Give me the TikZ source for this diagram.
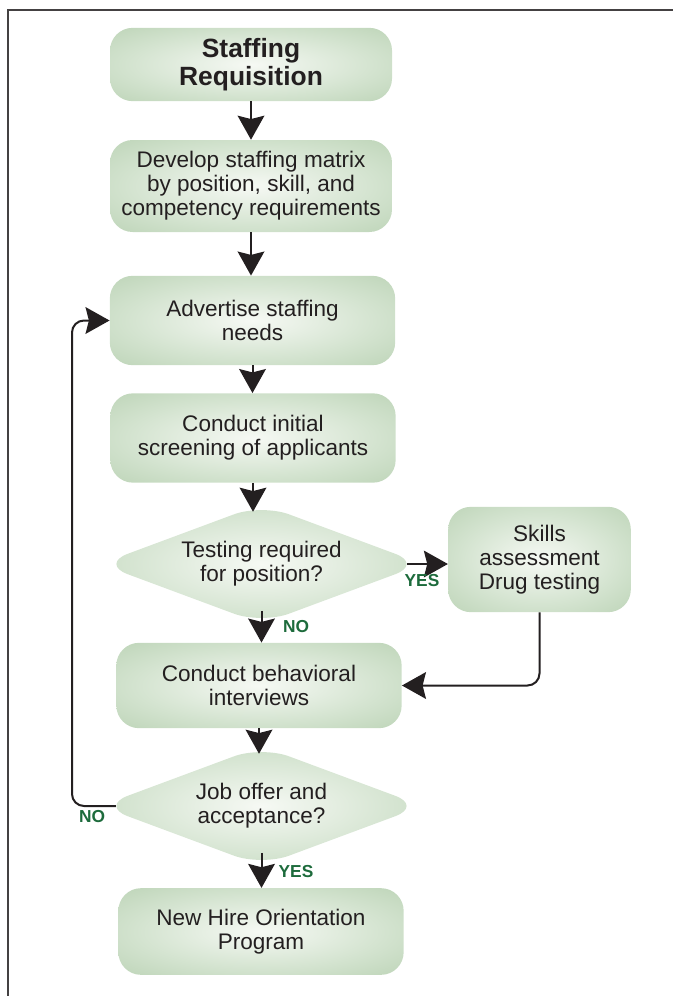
\documentclass[tikz,border=0pt]{standalone}
\usepackage{fontspec}
\setmainfont{Liberation Sans}
\usepackage{xcolor}
\usepackage{tikz}
\usetikzlibrary{arrows.meta,shapes.geometric}

\definecolor{glowin}{HTML}{F6F9F4}
\definecolor{glowmid}{HTML}{D3E3CF}
\definecolor{glowout}{HTML}{A8C6A1}
\definecolor{tagcol}{HTML}{1D6B3C}
\definecolor{inkcol}{HTML}{231F20}
\pgfdeclareradialshading{glow}{\pgfpointorigin}{color(0bp)=(glowin); color(22bp)=(glowmid); color(50bp)=(glowout); color(75bp)=(glowout)}

\tikzset{
  box/.style={rectangle, rounded corners=17pt, shade, shading=glow, minimum width=214pt,
    minimum height=67pt, inner sep=2pt, align=center, text=inkcol,
    font=\fontsize{16.9}{18}\selectfont},
  ask/.style={diamond, rounded corners=22pt, shade, shading=glow, minimum width=242pt,
    minimum height=90pt, aspect=2.7, inner sep=0pt, align=center, text=inkcol,
    font=\fontsize{16.9}{18}\selectfont},
  arr/.style={-{Stealth[length=18pt,width=20pt,inset=2.5pt]}, line width=1.5pt, draw=inkcol},
  tag/.style={font=\bfseries\fontsize{13}{13}\selectfont, text=tagcol}
}

\begin{document}
\begin{tikzpicture}[x=0.75pt,y=-0.75pt]
      \useasboundingbox (0,0) rectangle (673,996);
      \draw[line width=1.1pt, inkcol!85] (673,10) -- (8,10) -- (8,996);
      \node[box, minimum width=211.5pt, minimum height=55pt,
        font=\bfseries\fontsize{19.8}{21}\selectfont] (A) at (251,64.5) {Staffing\\Requisition};
      \node[box, minimum width=211.5pt, minimum height=69pt] (B) at (251,186) {Develop staffing matrix\\by position, skill, and\\competency requirements};
      \node[box] (C) at (252.5,320.5) {Advertise staffing\\needs};
      \node[box] (D) at (253,438) {Conduct initial\\screening of applicants};
      \node[ask] (E) at (261.5,564) {Testing required\\for position?};
      \node[box, minimum width=137pt, minimum height=79pt] (F) at (539.5,559.5) {Skills\\assessment\\Drug testing};
      \node[box, minimum height=64pt] (G) at (259,685.5) {Conduct behavioral\\interviews};
      \node[ask] (H) at (261.5,806) {Job offer and\\acceptance?};
      \node[box, minimum height=65pt] (I) at (261,931.5) {New Hire Orientation\\Program};
        % tips of the rounded diamonds
      \coordinate (Ee) at ([xshift=-12pt]E.east);
      \coordinate (Hw) at ([xshift=12pt]H.west);
      \coordinate (Hback) at (72,806);
      \draw[arr] (A.south) -- (A.south |- B.north);
      \draw[arr] (B.south) -- (B.south |- C.north);
      \draw[arr] (C.south) -- (C.south |- D.north);
      \draw[arr] (D.south) -- ([yshift=-6pt]D.south |- E.north);
      \draw[arr] ([yshift=10pt]E.south) -- (E.south |- G.north);
      \draw[arr] (G.south) -- ([yshift=-6pt]G.south |- H.north);
      \draw[arr] ([yshift=10pt]H.south) -- (H.south |- I.north);
      \draw[arr] (Ee) -- (Ee -| F.west);
      \draw[arr, rounded corners=9pt] (F.south) |- (G.east);
      \draw[arr, rounded corners=9pt] (Hw) -- (Hback) |- (C.west);
      \node[tag] (yes1) at (422,581) {YES};
      \node[tag] (no1) at (296,627) {NO};
      \node[tag] (no2) at (92,817) {NO};
      \node[tag] (yes2) at (296,872) {YES};
    \end{tikzpicture}
\end{document}
